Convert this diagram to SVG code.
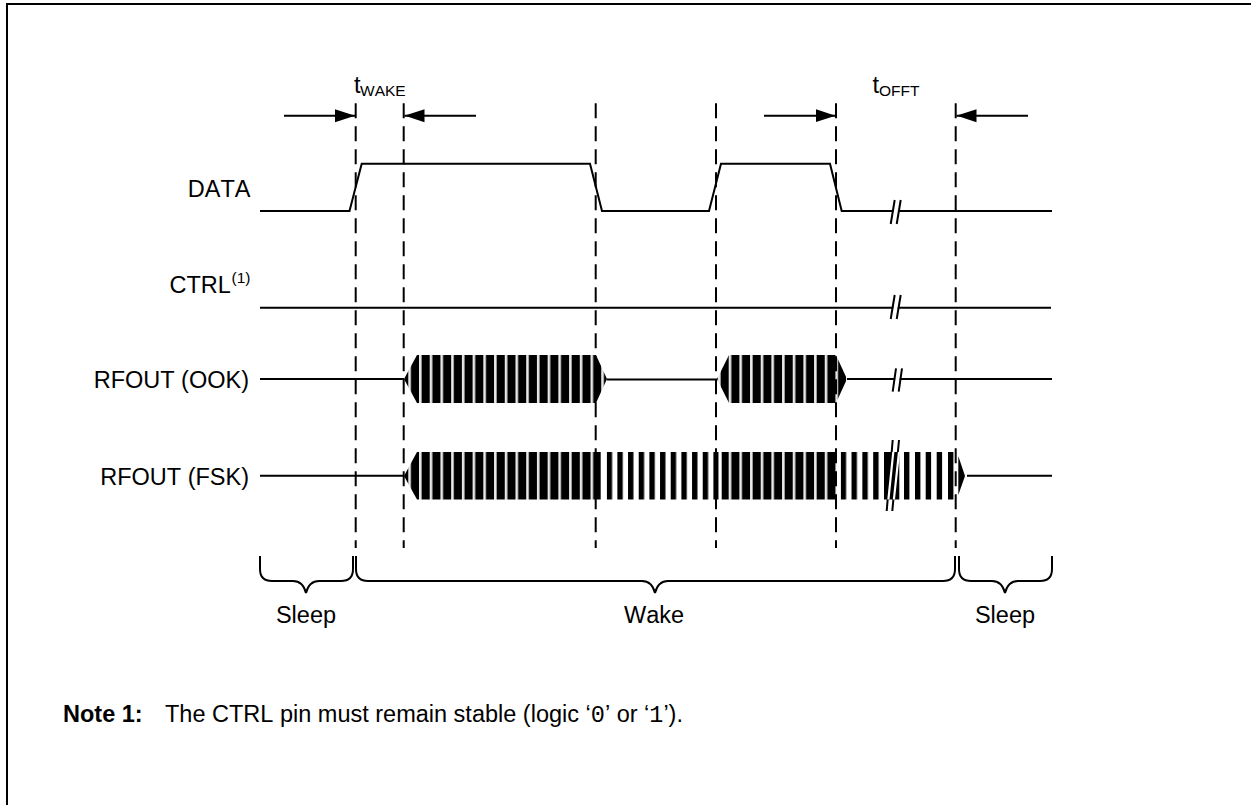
<svg xmlns="http://www.w3.org/2000/svg" width="1251" height="805" viewBox="0 0 1251 805">
<style>
text{font-family:"Liberation Sans",Arial,sans-serif;font-size:23.5px;fill:#000;font-kerning:none}
.r{text-anchor:end}
.m{text-anchor:middle}
.s{font-size:15.5px}
.b{font-weight:bold}
.c{font-family:"Liberation Mono","Courier New",monospace;font-size:23.5px;font-weight:normal}
.w{fill:none;stroke:#000;stroke-width:2}
.d{fill:none;stroke:#000;stroke-width:2;stroke-dasharray:15 8}
.a{fill:none;stroke:#000;stroke-width:2;marker-end:url(#head)}
.g{fill:none;stroke:#fff;stroke-width:4.5}
.n{fill:none;stroke:#fff;stroke-width:2.2}
.v{fill:#e8e8e8}
</style>
<defs>
<marker id="head" markerUnits="userSpaceOnUse" markerWidth="20" markerHeight="14" refX="20" refY="7" orient="auto"><path d="M0 0.5L20 7L0 13.5Z" fill="#000"/></marker>
<pattern id="dense1" patternUnits="userSpaceOnUse" x="419" y="0" width="10.72" height="10"><rect width="10.72" height="10" fill="#000"/><rect class="v" width="2.6" height="10"/></pattern>
<pattern id="dense2" patternUnits="userSpaceOnUse" x="728.7" y="0" width="10.67" height="10"><rect width="10.67" height="10" fill="#000"/><rect class="v" width="2.6" height="10"/></pattern>
<pattern id="sparse1" patternUnits="userSpaceOnUse" x="606.7" y="0" width="10.67" height="10"><rect width="5.4" height="10" fill="#000"/></pattern>
<pattern id="sparse2" patternUnits="userSpaceOnUse" x="840.7" y="0" width="10.83" height="10"><rect width="5.4" height="10" fill="#000"/></pattern>
</defs>
<path id="frame" class="w" d="M7 805V4H1251"/>
<g id="labels">
<text class="r" x="250.5" y="196.7">DATA</text>
<text x="169.5" y="292.7">CTRL</text><text class="s" x="231.5" y="283">(1)</text>
<text class="r" x="249" y="388">RFOUT (OOK)</text>
<text class="r" x="249" y="485">RFOUT (FSK)</text>
<text x="354" y="92.7">t</text><text class="s" x="360" y="95.7">WAKE</text>
<text x="872.5" y="92.7">t</text><text class="s" x="879" y="95.7">OFFT</text>
<text class="m" x="306" y="623">Sleep</text>
<text class="m" x="654" y="623">Wake</text>
<text class="m" x="1005" y="623">Sleep</text>
<text x="63" y="722"><tspan class="b">Note 1:</tspan><tspan x="165">The CTRL pin must remain stable (logic ‘</tspan><tspan class="c">0</tspan>’ or ‘<tspan class="c">1</tspan>’).</text>
</g>
<g id="rfout-ook">
<path class="w" d="M260 379H404M607 379.500H717M847 379H1052"/>
<polygon fill="url(#dense1)" points="404,379 417,355 596,355 607,379 596,403 417,403"/>
<polygon fill="url(#dense2)" points="717,379 729,355 836,355 847,379 836,403 729,403"/>
</g>
<g id="rfout-fsk">
<path class="w" d="M260 475.700H404M967 475.700H1052"/>
<polygon fill="url(#dense1)" points="404,476 417,452 600.700,452 600.700,499.500 417,499.500"/>
<rect x="606.700" y="452" width="112" height="47.500" fill="url(#sparse1)"/>
<rect x="721.700" y="452" width="7" height="47.500" fill="#000"/>
<rect x="728.700" y="452" width="107.800" height="47.500" fill="url(#dense2)"/>
<rect x="840.700" y="452" width="43.300" height="47.500" fill="url(#sparse2)"/>
<rect x="884" y="452" width="15.300" height="47.500" fill="#000"/>
<rect x="904" y="452" width="5.400" height="47.500" fill="#000"/>
<rect x="915" y="452" width="5.400" height="47.500" fill="#000"/>
<rect x="925.700" y="452" width="5.400" height="47.500" fill="#000"/>
<rect x="936.700" y="452" width="5.400" height="47.500" fill="#000"/>
<rect x="948" y="452" width="5.400" height="47.500" fill="#000"/>
<polygon points="958.300,456 965,476 958.300,495" fill="#000"/>
</g>
<g id="data"><path class="w" d="M260 211H349.500L361.700 163.700H590L602 211H709L721 163.700H830L841.700 211H1052"/></g>
<g id="ctrl"><path class="w" d="M260 307.700H1051"/></g>
<g id="connectors">
<path class="d" d="M355.700 103.300V548"/>
<path class="d" d="M403.700 103.300V548"/>
<path class="d" d="M595.700 103.300V548"/>
<path class="d" d="M716 103.300V548"/>
<path class="d" d="M836 103.300V548"/>
<path class="d" d="M955.700 103.300V548"/>
<path class="a" d="M284 115.700H355"/>
<path class="a" d="M476 115.700H404.500"/>
<path class="a" d="M764 115.700H835.500"/>
<path class="a" d="M1028 115.700H956.500"/>
</g>
<g id="breaks">
<path class="g" d="M893.700 224L897.700 200M893.700 319L897.700 295M895.600 391.700L899 368.300"/>
<path class="w" d="M890.700 224L894.700 200M896.700 224L900.700 200M890.700 319L894.700 295M896.700 319L900.700 295M892.700 391.700L896 368.300M898.700 391.700L902 368.300M886.700 511L892.700 440M892.300 511L899 440"/>
<path class="n" d="M888.400 499.500L893.300 452M893.900 499.500L899 452"/>
</g>
<g id="braces">
<path class="w" d="M260 556V569Q260 581 272 581H293Q303 581 306 593Q309 581 319 581H341Q353 581 353 569V556"/>
<path class="w" d="M356 556V569Q356 581 368 581H642Q652 581 655 593Q658 581 668 581H943Q955 581 955 569V556"/>
<path class="w" d="M959 556V569Q959 581 971 581H992Q1002 581 1005 593Q1008 581 1018 581H1040Q1052 581 1052 569V556"/>
</g>
</svg>
